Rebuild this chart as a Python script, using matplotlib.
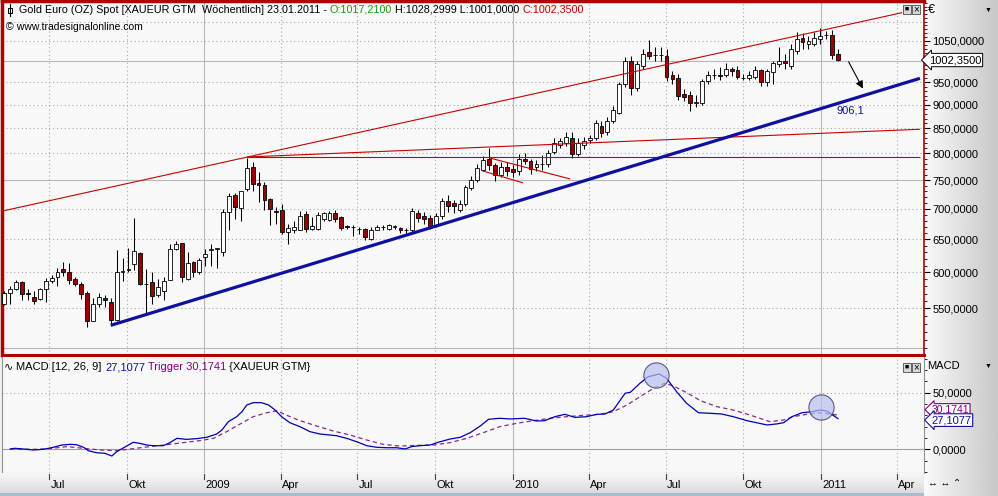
import numpy as np
import pandas as pd
import matplotlib
matplotlib.use('Agg')
import matplotlib.pyplot as plt
import matplotlib.dates as mdates
from matplotlib.ticker import FixedLocator, NullFormatter
from matplotlib.transforms import blended_transform_factory
from matplotlib.patches import Rectangle

# weekly candles, XAUEUR, last week 21.01.2011
open_ = [
    556, 571, 576, 586, 571, 566, 563, 576, 588, 593,
    605, 601, 590, 584, 571, 534, 556, 564, 558, 535,
    600, 604, 612, 629, 584, 586, 568, 574, 589, 635,
    644, 591, 615, 600, 623, 634, 635, 631, 694, 724,
    701, 734, 774, 745, 742, 717, 696, 698, 661, 665,
    665, 691, 667, 666, 683, 681, 692, 686, 672, 670,
    667, 666, 651, 665, 669, 666, 669.5, 668, 665, 665,
    693, 688, 684, 671, 688, 713, 710, 698, 708, 736,
    750, 768, 790, 777, 760, 775, 771, 766, 790, 785,
    774, 779, 779, 802, 817, 821, 831, 799, 817, 826,
    831, 854, 842, 865, 883, 946, 1000, 937, 988, 1021,
    1014, 1015, 1012, 966, 959, 924, 922, 903, 904, 952,
    966, 966, 966, 980, 979, 960, 959, 962, 978, 950,
    974, 993, 999, 988, 1025, 1056, 1042, 1043, 1054, 1064,
    1064, 1017.21]
high_ = [
    573, 581, 589, 588, 577, 573, 578, 592, 596, 607,
    616, 614, 593, 586, 573, 564, 571, 568, 564, 634,
    621, 637, 684, 631, 605, 600, 591, 593, 643, 648,
    645, 631, 617, 621, 635, 643, 637, 700, 727, 727,
    731, 791, 784, 764, 747, 718, 703, 708, 675, 680,
    696, 696, 686, 695, 695, 696, 697, 688, 673, 673,
    670, 668, 670, 673, 673, 675, 673, 670, 668, 701,
    698, 695, 690, 693, 719, 723, 715, 714, 742, 758,
    779, 795, 811, 781, 784, 783, 777, 798, 801, 790,
    788, 796, 807, 831, 831, 842, 842, 831, 833, 837,
    868, 865, 873, 896, 951, 1009, 1013, 1000, 1029, 1051,
    1034, 1034, 1029, 975, 968, 934, 929, 922, 957, 975,
    980, 985, 995, 985, 988, 968, 975, 988, 980, 980,
    999, 1034, 1016, 1041, 1072, 1069, 1062, 1072, 1082, 1074,
    1077, 1028.30]
low_ = [
    555, 556, 575, 561, 561, 556, 561, 559, 585, 581,
    595, 584, 580, 563, 526, 533, 552, 552, 528, 533,
    588, 600, 603, 582, 544, 556, 566, 561, 589, 634,
    586, 589, 593, 598, 610, 610, 607, 625, 664, 682,
    680, 731, 730, 711, 697, 673, 675, 659, 643, 660,
    664, 661, 664, 664, 679, 679, 678, 665, 666, 655,
    659, 649, 649, 664, 664, 664, 667, 660, 660, 662,
    678, 675, 667, 669, 682, 695, 693, 695, 704, 733,
    747, 766, 769, 749, 755, 758, 755, 760, 779, 762,
    766, 769, 775, 798, 811, 815, 792, 794, 809, 821,
    827, 833, 837, 860, 879, 939, 922, 929, 980, 1004,
    999, 999, 953, 945, 911, 907, 887, 894, 900, 947,
    957, 956, 961, 965, 957, 954, 954, 957, 942, 942,
    945, 985, 980, 980, 1016, 1029, 1029, 1036, 1041, 1054,
    1004, 1001.00]
close_ = [
    571, 576, 586, 570, 569, 560, 576, 588, 592, 601,
    601, 589, 583, 570, 534, 556, 566, 562, 535, 601,
    602, 605, 632, 584, 583, 567, 579, 588, 635, 643,
    593, 614, 600, 619, 627, 635, 636, 694, 721, 703,
    730, 772, 743, 741, 715, 700, 694, 661, 668, 669,
    688, 666, 671, 690, 692, 692, 682, 668, 670, 669,
    666, 654, 665, 670, 670, 673, 670.5, 665, 664, 696,
    685, 682, 671, 688, 713, 704, 704, 708, 738, 751,
    772, 787, 777, 760, 775, 766, 764, 790, 785, 771,
    779, 780, 801, 821, 824, 833, 798, 821, 824, 831,
    861, 840, 865, 888, 946, 1000, 936, 992, 1018, 1012,
    1015, 1014, 962, 957, 919, 917, 904, 906, 953, 966,
    967, 964, 982, 977, 961, 959, 966, 979, 950, 976,
    995, 999, 995, 1029, 1054, 1048, 1050, 1058, 1062, 1065,
    1014, 1002.35]

# MACD (12,26,9), x = weeks after first candle
macd_wk = [1.0, 1.8, 3.2, 4.9, 6.6, 8.3, 9.7, 11.1, 12.2, 13.4,
           14.2, 15.6, 17.0, 18.2, 19.0, 20.7, 21.8, 22.9, 24.1, 25.2,
           26.9, 28.0, 29.2, 30.8, 32.5, 34.2, 35.9, 36.8, 37.9, 39.3,
           40.2, 41.0, 42.1, 43.5, 44.7, 45.8, 46.9, 48.3, 50.0, 51.7,
           53.4, 55.1, 56.2, 57.9, 59.6, 61.3, 63.0, 64.7, 66.4, 67.8,
           68.9, 70.3, 72.0, 73.7, 75.4, 77.1, 78.8, 80.5, 81.9, 83.8,
           85.5, 88.0, 90.0, 91.4, 93.1, 94.8, 96.5, 98.5, 100.2, 101.6,
           103.0, 105.0, 105.9, 107.5, 108.9, 110.8, 112.0, 113.7, 115.4, 117.4,
           119.4, 121.3, 123.3, 125.6, 129.0, 130.6, 131.8, 133.2, 134.9, 136.6,
           138.0, 139.1, 141.0]
macd_val = [0.3, 0.9, 0.3, -0.6, 0.0, 1.8, 3.8, 4.4, 4.1, 1.8,
            -1.2, -3.0, -3.5, -5.9, -2.1, 2.9, 6.2, 5.3, 3.8, 3.2,
            3.2, 5.9, 9.7, 8.8, 9.4, 10.6, 13.5, 17.0, 24.4, 28.8,
            33.2, 39.1, 41.2, 41.2, 39.1, 34.7, 28.8, 23.5, 20.0, 15.6,
            13.5, 12.6, 12.0, 9.7, 6.7, 3.2, 1.8, 1.4, 1.4, 0.3,
            2.4, 3.2, 3.8, 6.7, 9.1, 10.6, 14.7, 20.6, 26.5, 27.4,
            26.8, 27.4, 25.0, 25.3, 28.8, 30.9, 28.2, 28.8, 30.9, 31.2,
            34.7, 49.5, 50.4, 58.3, 64.1, 66.5, 62.7, 50.9, 40.6, 32.3,
            31.8, 31.2, 28.8, 25.3, 21.5, 22.4, 23.5, 28.8, 32.3, 33.2,
            34.7, 33.8, 27.1]
trig_wk = [1.0, 4.9, 7.7, 10.6, 13.4, 16.2, 19.0, 21.8, 24.6, 27.5,
           30.3, 33.1, 35.4, 37.6, 39.9, 42.1, 44.4, 46.1, 47.8, 50.0,
           52.8, 55.6, 58.5, 61.3, 64.1, 66.9, 69.7, 72.6, 75.4, 78.2,
           81.0, 83.8, 86.7, 89.5, 92.3, 95.1, 97.9, 100.7, 103.0, 105.3,
           107.5, 109.8, 111.7, 113.1, 115.4, 117.7, 120.5, 123.3, 126.1, 129.5,
           131.8, 133.4, 135.7, 138.0, 141.0]
trig_val = [0.3, 0.0, 0.6, 2.4, 0.9, -0.6, -1.2, 0.6, 2.4, 4.1,
            5.9, 7.7, 9.7, 15.6, 22.4, 28.8, 32.3, 34.1, 30.0, 25.3,
            20.6, 16.2, 12.6, 8.2, 4.4, 2.9, 3.5, 3.8, 5.9, 9.7,
            14.7, 20.0, 23.0, 25.3, 27.4, 28.8, 30.0, 30.9, 33.2, 39.1,
            46.4, 53.9, 58.3, 56.0, 50.1, 43.0, 37.7, 34.7, 30.3, 24.4,
            25.9, 28.8, 30.9, 32.3, 30.2]

# drawn trendlines (date, price)
upper_line = [('2008-05-07', 696), ('2011-04-07', 1124)]
flat_line = [('2009-02-20', 793), ('2011-04-28', 793)]
rising_line = [('2009-02-20', 793), ('2011-04-28', 848)]
flag_low = [('2009-11-26', 767), ('2010-01-13', 745)]
flag_high = [('2009-12-05', 791), ('2010-03-10', 752)]
support_line = [('2008-09-12', 528), ('2011-04-28', 959)]
macd_circles = [('2010-06-20', 65.6), ('2011-01-01', 37.4)]

price_ticks = [550, 600, 650, 700, 750, 800, 850, 900, 950, 1050]
quarters = ['2008-07-01', '2008-10-01', '2009-01-01', '2009-04-01', '2009-07-01',
            '2009-10-01', '2010-01-01', '2010-04-01', '2010-07-01', '2010-10-01',
            '2011-01-01', '2011-04-01']
quarter_labels = ['Jul', 'Okt', '2009', 'Apr', 'Jul', 'Okt', '2010', 'Apr', 'Jul',
                  'Okt', '2011', 'Apr']

W, H = 998, 496
FONT = ['Liberation Sans', 'DejaVu Sans']
plt.rcParams['font.family'] = FONT

RED = '#c80000'
NAVY = '#1010a0'


def box(x0, y0, x1, y1):
    return [x0 / W, 1 - y1 / H, (x1 - x0) / W, (y1 - y0) / H]


def d(s):
    return mdates.date2num(pd.Timestamp(s))


fig = plt.figure(figsize=(W / 100, H / 100), dpi=100, facecolor='#f0f0f0')

# right scale background
side = fig.add_axes(box(924, 0, 998, 496))
side.imshow(np.linspace(0.98, 0.78, 80).reshape(1, -1), cmap='gray', vmin=0, vmax=1,
            aspect='auto', extent=[0, 1, 0, 1])
side.axis('off')

ax = fig.add_axes(box(2, 1, 924, 355))
mac = fig.add_axes(box(2, 357, 924, 473))
strip = fig.add_axes(box(0, 473, 924, 496))

o = np.array(open_)
hi = np.array(high_)
lo = np.array(low_)
c = np.array(close_)
dates = pd.date_range(end='2011-01-21', periods=len(c), freq='W-FRI')
x = mdates.date2num(dates)
xlim = (x[0] - 2.7, x[0] + 1088.8)

# ---- price panel ----
ax.set_facecolor('#f8f8f8')
ax.set_yscale('log')
ax.set_xlim(*xlim)
ax.set_ylim(491.5, 1156)
for lv in [550, 600, 650, 700, 800, 850, 900, 950, 1050, 1100]:
    ax.axhline(lv, color='#a8a8a8', lw=0.8, ls=(0, (1, 2.5)), zorder=1)
for lv in [500, 750, 1000]:
    ax.axhline(lv, color='#b8b8b8', lw=0.8, zorder=1)
for q in quarters:
    solid = q.endswith('01-01')
    for a in (ax, mac):
        a.axvline(d(q), color='#b8b8b8' if solid else '#a8a8a8', lw=0.8,
                  ls='-' if solid else (0, (1, 2.5)), zorder=1)

up = c >= o
ax.vlines(x, lo, hi, color='black', lw=0.75, zorder=3)
ax.bar(x, np.abs(c - o), bottom=np.minimum(o, c), width=4.6,
       color=np.where(up, 'white', '#9b0000'), edgecolor='black', lw=0.6, zorder=4)

for seg, col, lw in [(upper_line, RED, 0.8), (flat_line, RED, 0.8), (rising_line, RED, 0.8),
                     (flag_low, RED, 0.8), (flag_high, RED, 0.8), (support_line, NAVY, 2.3)]:
    ax.plot([d(seg[0][0]), d(seg[1][0])], [seg[0][1], seg[1][1]], color=col, lw=lw,
            zorder=5, solid_capstyle='butt')

ax.annotate('', xy=(d('2011-02-21'), 930), xytext=(d('2011-02-01'), 1004),
            arrowprops=dict(arrowstyle='-|>', color='black', lw=0.8, mutation_scale=11),
            zorder=6)
ax.text(d('2011-01-19'), 888, '906,1', color=NAVY, fontsize=8, va='center', zorder=6)

ax.yaxis.tick_right()
ax.yaxis.set_major_locator(FixedLocator(price_ticks))
ax.yaxis.set_major_formatter(plt.FuncFormatter(lambda v, p: f'{v:.4f}'.replace('.', ',')))
ax.yaxis.set_minor_locator(FixedLocator(np.arange(500, 1160, 10)))
ax.yaxis.set_minor_formatter(NullFormatter())
ax.tick_params(axis='y', which='major', length=4, width=0.8, labelsize=8, pad=2)
ax.tick_params(axis='y', which='minor', length=2, width=0.6)
ax.tick_params(axis='x', which='both', bottom=False, labelbottom=False)
for s in ax.spines.values():
    s.set_color('#b00000')
ax.spines['left'].set_linewidth(2.5)
ax.spines['top'].set_linewidth(2.5)
ax.spines['bottom'].set_linewidth(2.2)
ax.spines['right'].set_linewidth(1.2)

ax.text(1.005, 1002.35, '1002,3500', transform=blended_transform_factory(ax.transAxes, ax.transData),
        fontsize=8, va='center', ha='left', zorder=10, clip_on=False,
        bbox=dict(boxstyle='larrow,pad=0.15', fc='white', ec='black', lw=0.7))

# ---- MACD panel ----
mac.set_facecolor('#f8f8f8')
mac.set_xlim(*xlim)
mac.set_ylim(-20.9, 81.5)
mac.axhline(50, color='#a8a8a8', lw=0.8, ls=(0, (1, 2.5)), zorder=1)
mac.axhline(0, color='#a0a0a0', lw=0.8, zorder=1)
mac.plot(x[0] + np.array(trig_wk) * 7, trig_val, color='#8a2a8a', lw=0.9, ls=(0, (3.5, 2.5)), zorder=3)
mac.plot(x[0] + np.array(macd_wk) * 7, macd_val, color='#0000b4', lw=0.9, zorder=4)
mac.scatter([d(a) for a, b in macd_circles], [b for a, b in macd_circles], s=330,
            facecolor='#b8c0f0', alpha=0.7, edgecolor='#202050', lw=0.8, zorder=5)
mac.yaxis.tick_right()
mac.set_yticks([0, 50])
mac.set_yticklabels(['0,0000', '50,0000'])
mac.yaxis.set_minor_locator(FixedLocator(np.arange(-20, 81, 10)))
mac.tick_params(axis='y', which='major', length=4, width=0.8, labelsize=8, pad=2)
mac.tick_params(axis='y', which='minor', length=2, width=0.6)
mac.tick_params(axis='x', which='both', bottom=False, labelbottom=False)
for s in mac.spines.values():
    s.set_color('#909090')
    s.set_linewidth(0.8)
mac.spines['top'].set_visible(False)
btr = blended_transform_factory(mac.transAxes, mac.transData)
mac.text(1.008, 35.0, '30,1741', transform=btr, fontsize=7.5, va='center', color='#800080',
         clip_on=False, zorder=10,
         bbox=dict(boxstyle='larrow,pad=0.1', fc='white', ec='#800080', lw=0.8))
mac.text(1.008, 25.8, '27,1077', transform=btr, fontsize=8, va='center', color=NAVY,
         clip_on=False, zorder=11,
         bbox=dict(boxstyle='larrow,pad=0.12', fc='white', ec=NAVY, lw=0.8))

# ---- date strip ----
strip.imshow(np.linspace(0.97, 0.84, 40).reshape(-1, 1), cmap='gray', vmin=0, vmax=1,
             aspect='auto', extent=[xlim[0] - 3, xlim[1], 0, 1])
strip.add_patch(Rectangle((xlim[0] - 3, 0), xlim[1] - xlim[0] + 3, 0.14, color='#a8bcd2', lw=0))
strip.set_xlim(xlim[0] - 2.4, xlim[1])
strip.set_ylim(0, 1)
strip.axis('off')
for q, lab in zip(quarters, quarter_labels):
    strip.plot([d(q), d(q)], [0.76, 0.95], color='#404040', lw=0.8)
    strip.text(d(q) + 1.5, 0.5, lab, fontsize=8, va='center', ha='left')


# ---- texts ----
def put_row(x_px, y_px, parts, size=8):
    r = fig.canvas.get_renderer()
    for s, col in parts:
        t = fig.text(x_px / W, 1 - y_px / H, s, color=col, fontsize=size, va='center', ha='left')
        x_px += t.get_window_extent(r).width


put_row(19, 10, [('Gold Euro (OZ) Spot [XAUEUR GTM  Wöchentlich] 23.01.2011 - ', 'black'),
                 ('O:1017,2100', '#1a9a1a'), (' H:1028,2999 L:1001,0000 ', 'black'),
                 ('C:1002,3500', '#c00000')], size=7.75)
put_row(6, 27, [('©', 'black'), (' www.tradesignalonline.com', 'black')], size=7.5)
put_row(4, 367, [('∿ ', 'black'), ('MACD [12, 26, 9] ', 'black'), ('27,1077', NAVY),
                 (' Trigger 30,1741', '#800080'), (' {XAUEUR GTM}', 'black')])

# small candle icon in the header
fig.add_artist(plt.Line2D([10 / W, 10 / W], [1 - 4 / H, 1 - 16 / H], color='black', lw=0.8))
fig.add_artist(Rectangle((8 / W, 1 - 13 / H), 4 / W, 5 / H, fc='white', ec='black', lw=0.7))

# window buttons
for yb in (5, 363):
    for xb in (903, 912):
        fig.add_artist(Rectangle((xb / W, 1 - (yb + 9) / H), 8 / W, 9 / H, fc='#d8d8d8',
                                 ec='#606060', lw=0.7))
    fig.text(907 / W, 1 - (yb + 4.5) / H, '■', fontsize=5, ha='center', va='center')
    fig.text(916 / W, 1 - (yb + 4.5) / H, '×', fontsize=7, ha='center', va='center')

fig.text(928 / W, 1 - 10 / H, '€', fontsize=9, va='center')
fig.text(988 / W, 1 - 10 / H, '▼', fontsize=5, va='center', ha='center')
fig.text(927 / W, 1 - 366 / H, 'MACD', fontsize=8, va='center')
fig.text(988 / W, 1 - 366 / H, '▼', fontsize=5, va='center', ha='center')
fig.text(928 / W, 1 - 483 / H, '↔ ↔ ⌃', fontsize=7, va='center')

fig.savefig('out.png', dpi=100, facecolor=fig.get_facecolor())
